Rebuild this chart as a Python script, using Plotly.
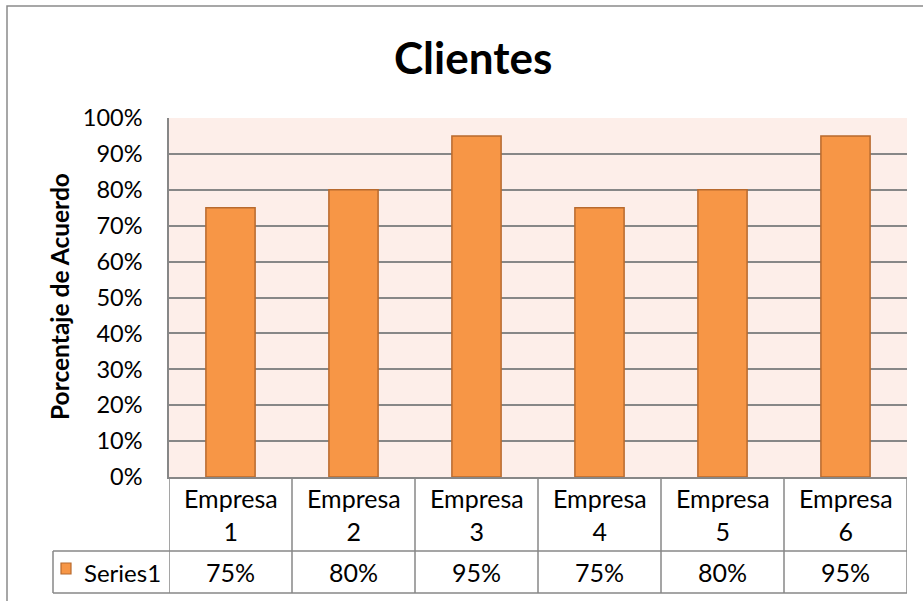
import plotly.graph_objects as go

# ---- data ----
categories = ["Empresa 1", "Empresa 2", "Empresa 3", "Empresa 4", "Empresa 5", "Empresa 6"]
values = [0.75, 0.80, 0.95, 0.75, 0.80, 0.95]
series_name = "Series1"
title_text = "Clientes"
y_title = "Porcentaje de Acuerdo"

# ---- layout geometry (pixels) ----
W, H = 923, 601
L, R, T, B = 169, 907, 118, 477
ROW1_BOTTOM = 551
ROW2_BOTTOM = 593
LEG_LEFT = 53

def px(x):
    return (x - L) / (R - L)

def py(y):
    return (B - y) / (B - T)

FONT = "Lato, 'Open Sans', sans-serif"
GRID = "#878787"
BAR = "#F79646"
BAR_LINE = "#B86A2E"

fig = go.Figure()
fig.add_trace(go.Bar(
    x=categories, y=values, name=series_name,
    marker=dict(color=BAR, line=dict(color=BAR_LINE, width=1.5)),
    showlegend=False,
))

shapes = []
line = dict(color=GRID, width=1.5)
# outer chart border
shapes.append(dict(type="rect", xref="paper", yref="paper",
                   x0=px(7), x1=px(W + 10), y0=py(6), y1=py(H + 10),
                   line=dict(color="#8a8a8a", width=1.5), layer="below"))
# data table horizontal lines
shapes.append(dict(type="line", xref="paper", yref="paper",
                   x0=px(LEG_LEFT), x1=1, y0=py(ROW1_BOTTOM), y1=py(ROW1_BOTTOM), line=line))
shapes.append(dict(type="line", xref="paper", yref="paper",
                   x0=px(LEG_LEFT), x1=1, y0=py(ROW2_BOTTOM), y1=py(ROW2_BOTTOM), line=line))
# left border of legend cell
shapes.append(dict(type="line", xref="paper", yref="paper",
                   x0=px(LEG_LEFT), x1=px(LEG_LEFT), y0=py(ROW1_BOTTOM), y1=py(ROW2_BOTTOM), line=line))
# vertical column borders
n = len(categories)
for i in range(n + 1):
    shapes.append(dict(type="line", xref="x", yref="paper",
                       x0=i - 0.5, x1=i - 0.5, y0=0, y1=py(ROW2_BOTTOM), line=line))
# legend key
shapes.append(dict(type="rect", xref="paper", yref="paper",
                   x0=px(61), x1=px(71), y0=py(563), y1=py(574),
                   fillcolor=BAR, line=dict(color=BAR_LINE, width=1.2)))

TABLE_SIZE = 25
annotations = []
for i, (c, v) in enumerate(zip(categories, values)):
    annotations.append(dict(x=i, xref="x", y=py(514), yref="paper",
                            text=c.replace(" ", "<br>"), showarrow=False,
                            font=dict(family=FONT, size=TABLE_SIZE, color="black"),
                            xanchor="center", yanchor="middle"))
    annotations.append(dict(x=i, xref="x", y=py(572), yref="paper",
                            text=f"{round(v * 100)}%", showarrow=False,
                            font=dict(family=FONT, size=TABLE_SIZE, color="black"),
                            xanchor="center", yanchor="middle"))
annotations.append(dict(x=px(82), xref="paper", y=py(572), yref="paper",
                        text=series_name, showarrow=False,
                        font=dict(family=FONT, size=24, color="black"),
                        xanchor="left", yanchor="middle"))
annotations.append(dict(x=px(59), xref="paper", y=py(297), yref="paper",
                        text=f"<b>{y_title}</b>", showarrow=False, textangle=-90,
                        font=dict(family=FONT, size=24.5, color="black"),
                        xanchor="center", yanchor="middle"))
annotations.append(dict(x=px(473), xref="paper", y=py(57), yref="paper",
                        text=f"<b>{title_text}</b>", showarrow=False,
                        font=dict(family=FONT, size=44, color="black"),
                        xanchor="center", yanchor="middle"))

fig.update_layout(
    width=W, height=H,
    margin=dict(l=L, r=W - R, t=T, b=H - B),
    paper_bgcolor="white",
    plot_bgcolor="#FDEEE9",
    bargap=0.6,
    shapes=shapes,
    annotations=annotations,
    xaxis=dict(showticklabels=False, showgrid=False, zeroline=False,
               showline=True, linecolor=GRID, linewidth=1.5,
               range=[-0.5, n - 0.5], fixedrange=True),
    yaxis=dict(range=[0, 1], dtick=0.1, tickformat=".0%",
               showgrid=True, gridcolor=GRID, gridwidth=1.5,
               zeroline=False, showline=True, linecolor=GRID, linewidth=1.5,
               ticks="outside", ticklen=20, tickcolor="rgba(0,0,0,0)",
               tickfont=dict(family=FONT, size=23.5, color="black"),
               fixedrange=True),
)

fig.write_html("out.html")
